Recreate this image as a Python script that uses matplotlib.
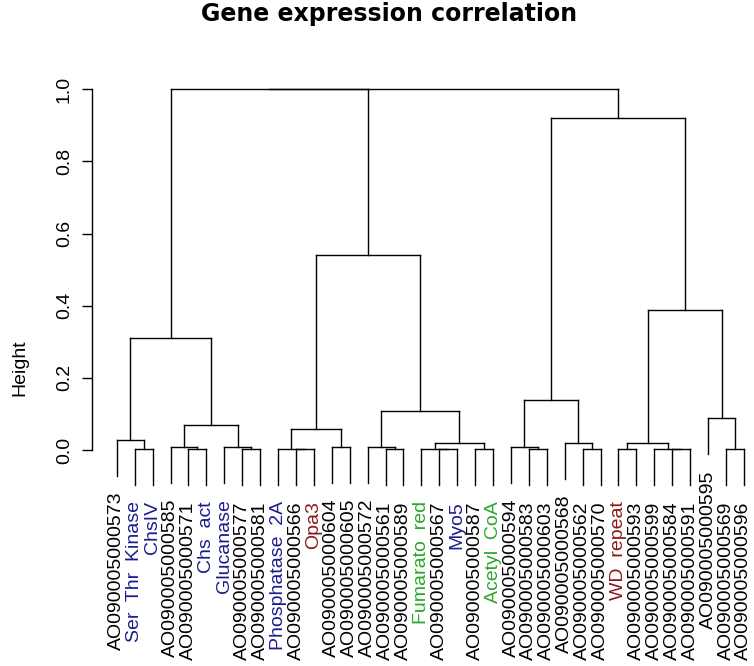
import numpy as np
import matplotlib
matplotlib.use("Agg")
import matplotlib.pyplot as plt

plt.rcParams['font.family'] = ['Liberation Sans', 'DejaVu Sans']

# Leaf labels in display order (left -> right)
labels = ["AO090005000573", "Ser  Thr  Kinase", "ChsIV", "AO090005000585",
          "AO090005000571", "Chs  act", "Glucanase", "AO090005000577",
          "AO090005000581", "Phosphatase  2A", "AO090005000566", "Opa3",
          "AO090005000604", "AO090005000605", "AO090005000572", "AO090005000561",
          "AO090005000589", "Fumarato  red", "AO090005000567", "Myo5",
          "AO090005000587", "Acetyl  CoA", "AO090005000594", "AO090005000583",
          "AO090005000603", "AO090005000568", "AO090005000562", "AO090005000570",
          "WD  repeat", "AO090005000593", "AO090005000599", "AO090005000584",
          "AO090005000591", "AO090005000595", "AO090005000569", "AO090005000596"]

# label colour group: k = unannotated, b = blue, r = dark red, g = green
label_groups = ["k", "b", "b", "k", "k", "b", "b", "k", "k", "b", "k", "r",
                "k", "k", "k", "k", "k", "g", "k", "b", "k", "g", "k", "k",
                "k", "k", "k", "k", "r", "k", "k", "k", "k", "k", "k", "k"]

# hclust-style merge matrix: negative = leaf (1-based position), positive = earlier merge row
merge_left = [-2, -5, -8, -11, -10, -16, -19, -18, -21, -24, -27, -29, -32, -31, -35,
              -4, -7, -13, -15, -23, 8, -26, 12, -1, 5, 16, -34, 19, 20, 24, 23, 25, 29, 30, 34]
merge_right = [-3, -6, -9, -12, 4, -17, -20, 7, -22, -25, -28, -30, -33, 13, -36,
               2, 3, -14, 6, 10, 9, 11, 14, 1, 18, 17, 15, 21, 22, 26, 27, 28, 31, 32, 33]
merge_height = [0.002, 0.002, 0.002, 0.002, 0.002, 0.002, 0.002, 0.002, 0.002, 0.002,
                0.002, 0.002, 0.002, 0.002, 0.002, 0.009, 0.009, 0.009, 0.009, 0.009,
                0.020, 0.020, 0.020, 0.028, 0.058, 0.069, 0.088, 0.108, 0.139, 0.311,
                0.388, 0.540, 0.921, 1.000, 1.000]

hang = 0.1
colors = {"k": "black", "b": "#1c1c8c", "r": "#8b1a1a", "g": "#2aa82a"}

W, H = 754, 666
fig = plt.figure(figsize=(W / 100, H / 100), dpi=100)
# axes placed in pixel terms to match the R layout
left_px, right_px, top_px, bot_px = 91.7, 769.0, 75.0, 490.0
ax = fig.add_axes([left_px / W, 1 - bot_px / H, (right_px - left_px) / W, (bot_px - top_px) / H])

n = len(labels)
node_x = {}
node_h = {}
for k in range(len(merge_height)):
    h = merge_height[k]
    xs = []
    for child in (merge_left[k], merge_right[k]):
        if child < 0:
            x = -child
            bottom = h - hang
            ax.plot([x, x], [bottom, h], color="black", lw=1.0)
            ax.annotate(labels[x - 1], xy=(x, bottom), xytext=(0, -11.5),
                        textcoords="offset points", rotation=90, ha="center", va="top",
                        fontsize=14, color=colors[label_groups[x - 1]], annotation_clip=False)
        else:
            x = node_x[child]
            ax.plot([x, x], [node_h[child], h], color="black", lw=1.0)
        xs.append(x)
    ax.plot(xs, [h, h], color="black", lw=1.0)
    node_x[k + 1] = np.mean(xs)
    node_h[k + 1] = h

ax.set_xlim(1 - 0.04 * (n - 1), n + 0.04 * (n - 1))
ax.set_ylim((450 - bot_px) / 360.7, (450 - top_px) / 360.7)
ax.set_yticks([0, 0.2, 0.4, 0.6, 0.8, 1.0])
ax.set_yticklabels(["0.0", "0.2", "0.4", "0.6", "0.8", "1.0"], rotation=90, va="center", fontsize=14)
ax.tick_params(axis="y", length=7.5, width=1.0, pad=6)
ax.set_xticks([])
for s in ["top", "right", "bottom"]:
    ax.spines[s].set_visible(False)
ax.spines["left"].set_bounds(0, 1)
ax.spines["left"].set_linewidth(1.0)
ax.patch.set_visible(False)

fig.text(20 / W, 1 - 368 / H, "Height", rotation=90, ha="center", va="center", fontsize=14)
fig.text(389.5 / W, 1 - 20.5 / H, "Gene expression correlation", ha="center", va="baseline",
         fontsize=17, fontweight="bold", family="DejaVu Sans")

fig.savefig("out.png", dpi=100)
